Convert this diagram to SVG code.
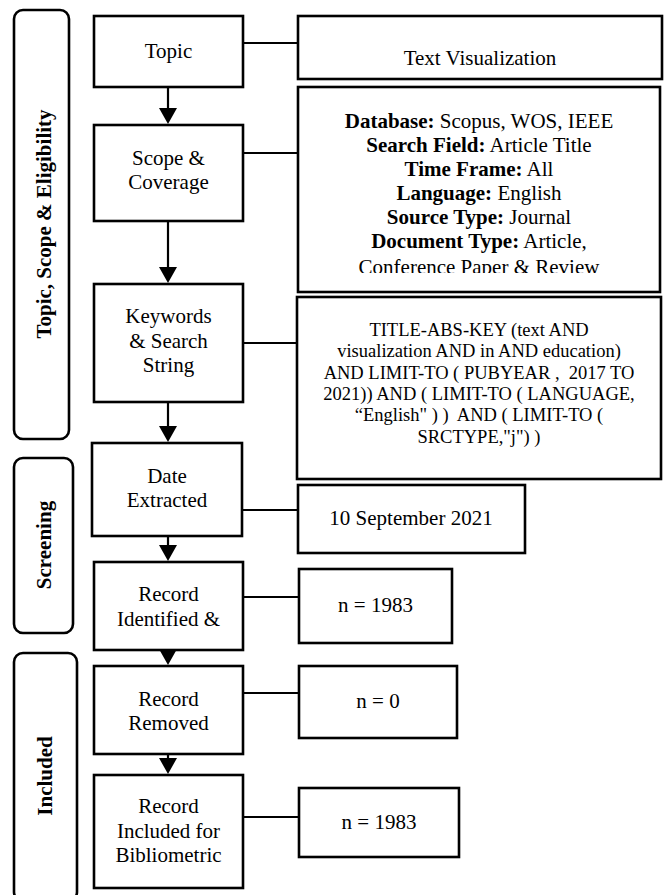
<svg xmlns="http://www.w3.org/2000/svg" width="665" height="895" viewBox="0 0 665 895">
  <style>
    .box { fill: #ffffff; stroke: #000000; stroke-width: 2.6; }
    .phase { fill: #ffffff; stroke: #000000; stroke-width: 2.6; }
    .conn { stroke: #000000; stroke-width: 2.2; fill: none; }
    .t { font-family: "Liberation Serif", "Times New Roman", serif; font-size: 21px; fill: #000000; text-anchor: middle; }
    .ts { font-family: "Liberation Serif", "Times New Roman", serif; font-size: 18.5px; fill: #000000; text-anchor: middle; }
    .b { font-weight: bold; }
    .v { font-family: "Liberation Serif", "Times New Roman", serif; font-size: 21px; font-weight: bold; fill: #000000; text-anchor: middle; }
  </style>
  <defs>
    <marker id="arr" markerUnits="userSpaceOnUse" markerWidth="16" markerHeight="18" viewBox="0 0 16 18" refX="12" refY="9" orient="auto">
      <path d="M0,0 L16,9 L0,18 Z" fill="#000000"/>
    </marker>
    <clipPath id="clipDb">
      <rect x="298" y="88" width="362" height="185"/>
    </clipPath>
  </defs>
  <rect x="0" y="0" width="665" height="895" fill="#ffffff"/>

  <g id="connectors">
    <line class="conn" x1="243" y1="43" x2="298" y2="43"/>
    <line class="conn" x1="243" y1="153" x2="298" y2="153"/>
    <line class="conn" x1="243" y1="343" x2="298" y2="343"/>
    <line class="conn" x1="242" y1="510" x2="298" y2="510"/>
    <line class="conn" x1="243" y1="597" x2="299" y2="597"/>
    <line class="conn" x1="243" y1="693" x2="299" y2="693"/>
    <line class="conn" x1="243" y1="817" x2="299" y2="817"/>
    <line class="conn" x1="168" y1="87" x2="168" y2="120" marker-end="url(#arr)"/>
    <line class="conn" x1="168" y1="221" x2="168" y2="279" marker-end="url(#arr)"/>
    <line class="conn" x1="168" y1="402" x2="168" y2="438" marker-end="url(#arr)"/>
    <line class="conn" x1="168" y1="532" x2="168" y2="557" marker-end="url(#arr)"/>
    <line class="conn" x1="168" y1="636" x2="168" y2="661" marker-end="url(#arr)"/>
    <line class="conn" x1="168" y1="754" x2="168" y2="770" marker-end="url(#arr)"/>
  </g>

  <g id="phase-topic">
    <rect class="phase" x="14" y="10" width="55" height="429" rx="9"/>
    <text class="v" transform="translate(51,224) rotate(-90)">Topic, Scope &amp; Eligibility</text>
  </g>
  <g id="phase-screening">
    <rect class="phase" x="14" y="458" width="59" height="175" rx="9"/>
    <text class="v" transform="translate(51,545) rotate(-90)">Screening</text>
  </g>
  <g id="phase-included">
    <rect class="phase" x="14" y="653" width="63" height="248" rx="9"/>
    <text class="v" transform="translate(52,776) rotate(-90)">Included</text>
  </g>

  <g id="topic">
    <rect class="box" x="94" y="16" width="149" height="71"/>
    <text class="t" x="168.5" y="58">Topic</text>
  </g>
  <g id="scope">
    <rect class="box" x="94" y="125" width="149" height="96"/>
    <text class="t" x="168.5" y="165">Scope &amp;</text>
    <text class="t" x="168.5" y="189">Coverage</text>
  </g>
  <g id="keywords">
    <rect class="box" x="94" y="284" width="149" height="118"/>
    <text class="t" x="168.5" y="323">Keywords</text>
    <text class="t" x="168.5" y="348">&amp; Search</text>
    <text class="t" x="168.5" y="372">String</text>
  </g>
  <g id="date">
    <rect class="box" x="92" y="443" width="150" height="93"/>
    <text class="t" x="167" y="483">Date</text>
    <text class="t" x="167" y="507">Extracted</text>
  </g>
  <g id="record-identified">
    <rect class="box" x="94" y="562" width="149" height="88"/>
    <text class="t" x="168.5" y="601">Record</text>
    <text class="t" x="168.5" y="626">Identified &amp;</text>
  </g>
  <g id="record-removed">
    <rect class="box" x="94" y="666" width="149" height="88"/>
    <text class="t" x="168.5" y="706">Record</text>
    <text class="t" x="168.5" y="730">Removed</text>
  </g>
  <g id="record-included">
    <rect class="box" x="94" y="775" width="149" height="113"/>
    <text class="t" x="168.5" y="813">Record</text>
    <text class="t" x="168.5" y="838">Included for</text>
    <text class="t" x="168.5" y="862">Bibliometric</text>
  </g>

  <g id="text-visualization">
    <rect class="box" x="298" y="16" width="364" height="63"/>
    <text class="t" x="480" y="65">Text Visualization</text>
  </g>
  <g id="scope-details">
    <rect class="box" x="298" y="87" width="362" height="205"/>
    <g clip-path="url(#clipDb)">
      <text class="t" x="479" y="128"><tspan class="b">Database:</tspan> Scopus, WOS, IEEE</text>
      <text class="t" x="479" y="152"><tspan class="b">Search Field:</tspan> Article Title</text>
      <text class="t" x="479" y="176"><tspan class="b">Time Frame:</tspan> All</text>
      <text class="t" x="479" y="200"><tspan class="b">Language:</tspan> English</text>
      <text class="t" x="479" y="224"><tspan class="b">Source Type:</tspan> Journal</text>
      <text class="t" x="479" y="248"><tspan class="b">Document Type:</tspan> Article,</text>
      <text class="t" x="479" y="274">Conference Paper &amp; Review</text>
    </g>
  </g>
  <g id="search-string">
    <rect class="box" x="297" y="297" width="364" height="182"/>
    <text class="ts" x="479" y="336">TITLE-ABS-KEY (text AND</text>
    <text class="ts" x="479" y="357">visualization AND in AND education)</text>
    <text class="ts" x="479" y="379" xml:space="preserve">AND LIMIT-TO ( PUBYEAR ,  2017 TO</text>
    <text class="ts" x="479" y="400">2021)) AND ( LIMIT-TO ( LANGUAGE,</text>
    <text class="ts" x="479" y="421" xml:space="preserve">“English" ) )  AND ( LIMIT-TO (</text>
    <text class="ts" x="479" y="443">SRCTYPE,"j") )</text>
  </g>
  <g id="date-value">
    <rect class="box" x="298" y="485" width="227" height="68"/>
    <text class="t" x="411" y="525">10 September 2021</text>
  </g>
  <g id="n-identified">
    <rect class="box" x="299" y="569" width="153" height="74"/>
    <text class="t" x="375.5" y="612">n = 1983</text>
  </g>
  <g id="n-removed">
    <rect class="box" x="299" y="666" width="158" height="72"/>
    <text class="t" x="378" y="708">n = 0</text>
  </g>
  <g id="n-included">
    <rect class="box" x="299" y="788" width="160" height="69"/>
    <text class="t" x="379" y="829">n = 1983</text>
  </g>
</svg>
